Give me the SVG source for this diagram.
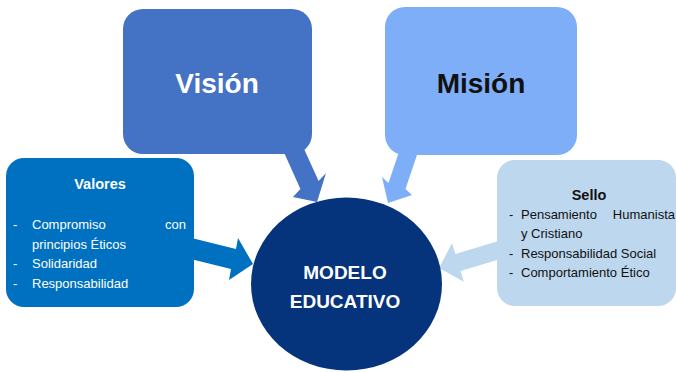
<svg xmlns="http://www.w3.org/2000/svg" width="676" height="372" viewBox="0 0 676 372">
<style>
.t{font-family:"Liberation Sans",Arial,sans-serif}
.big{font-size:28px;font-weight:bold;text-anchor:middle}
.hd{font-size:14.5px;font-weight:bold;text-anchor:middle}
.li{font-size:13px}
.w{fill:#ffffff}
.k{fill:#111111}
</style>
<rect width="676" height="372" fill="#ffffff"/>
<g id="connectors">
<polygon fill="#4472C4" points="282,148 300,140 318.6,180.9 326,173 317,202 293,197 300.4,189.1"/>
<polygon fill="#7EAEF7" points="404.5,135.5 421.5,141.5 405.5,189 412,195 388,203 382,177 388.5,183"/>
<polygon fill="#0070C0" points="187.5,237 236,249 238,238 253,264 229,280 231,269 182.5,257"/>
<polygon fill="#BDD7EE" points="503.4,239.4 455.4,253.9 452,243.3 439,268 463.8,281.7 460.6,271.1 508.6,256.6"/>
</g>
<g id="vision">
<rect x="123" y="9" width="189" height="145" rx="20" fill="#4472C4"/>
<text class="t big w" x="217" y="93">Visión</text>
</g>
<g id="mision">
<rect x="385" y="7" width="192" height="148" rx="20" fill="#7EAEF7"/>
<text class="t big k" x="481" y="93">Misión</text>
</g>
<g id="valores">
<rect x="6" y="158" width="188" height="149" rx="18" fill="#0070C0"/>
<text class="t hd w" x="100" y="189">Valores</text>
<g class="t li w">
<text x="13" y="229">-</text>
<text x="32" y="229">Compromiso</text>
<text x="186" y="229" text-anchor="end">con</text>
<text x="32" y="249">principios Éticos</text>
<text x="13" y="268">-</text>
<text x="32" y="268">Solidaridad</text>
<text x="13" y="288">-</text>
<text x="32" y="288">Responsabilidad</text>
</g>
</g>
<g id="sello">
<rect x="497" y="160" width="179" height="146" rx="18" fill="#BDD7EE"/>
<text class="t hd k" x="589" y="200">Sello</text>
<g class="t li k">
<text x="509" y="219">-</text>
<text x="521" y="219">Pensamiento</text>
<text x="675" y="219" text-anchor="end">Humanista</text>
<text x="521" y="238">y Cristiano</text>
<text x="509" y="258">-</text>
<text x="521" y="258">Responsabilidad Social</text>
<text x="509" y="277">-</text>
<text x="521" y="277">Comportamiento Ético</text>
</g>
</g>
<g id="modelo">
<ellipse cx="346.5" cy="284" rx="95.5" ry="86.5" fill="#06347C"/>
<text class="t w" x="345" y="279" font-size="19" font-weight="bold" text-anchor="middle">MODELO</text>
<text class="t w" x="345" y="308" font-size="19" font-weight="bold" text-anchor="middle">EDUCATIVO</text>
</g>
</svg>
